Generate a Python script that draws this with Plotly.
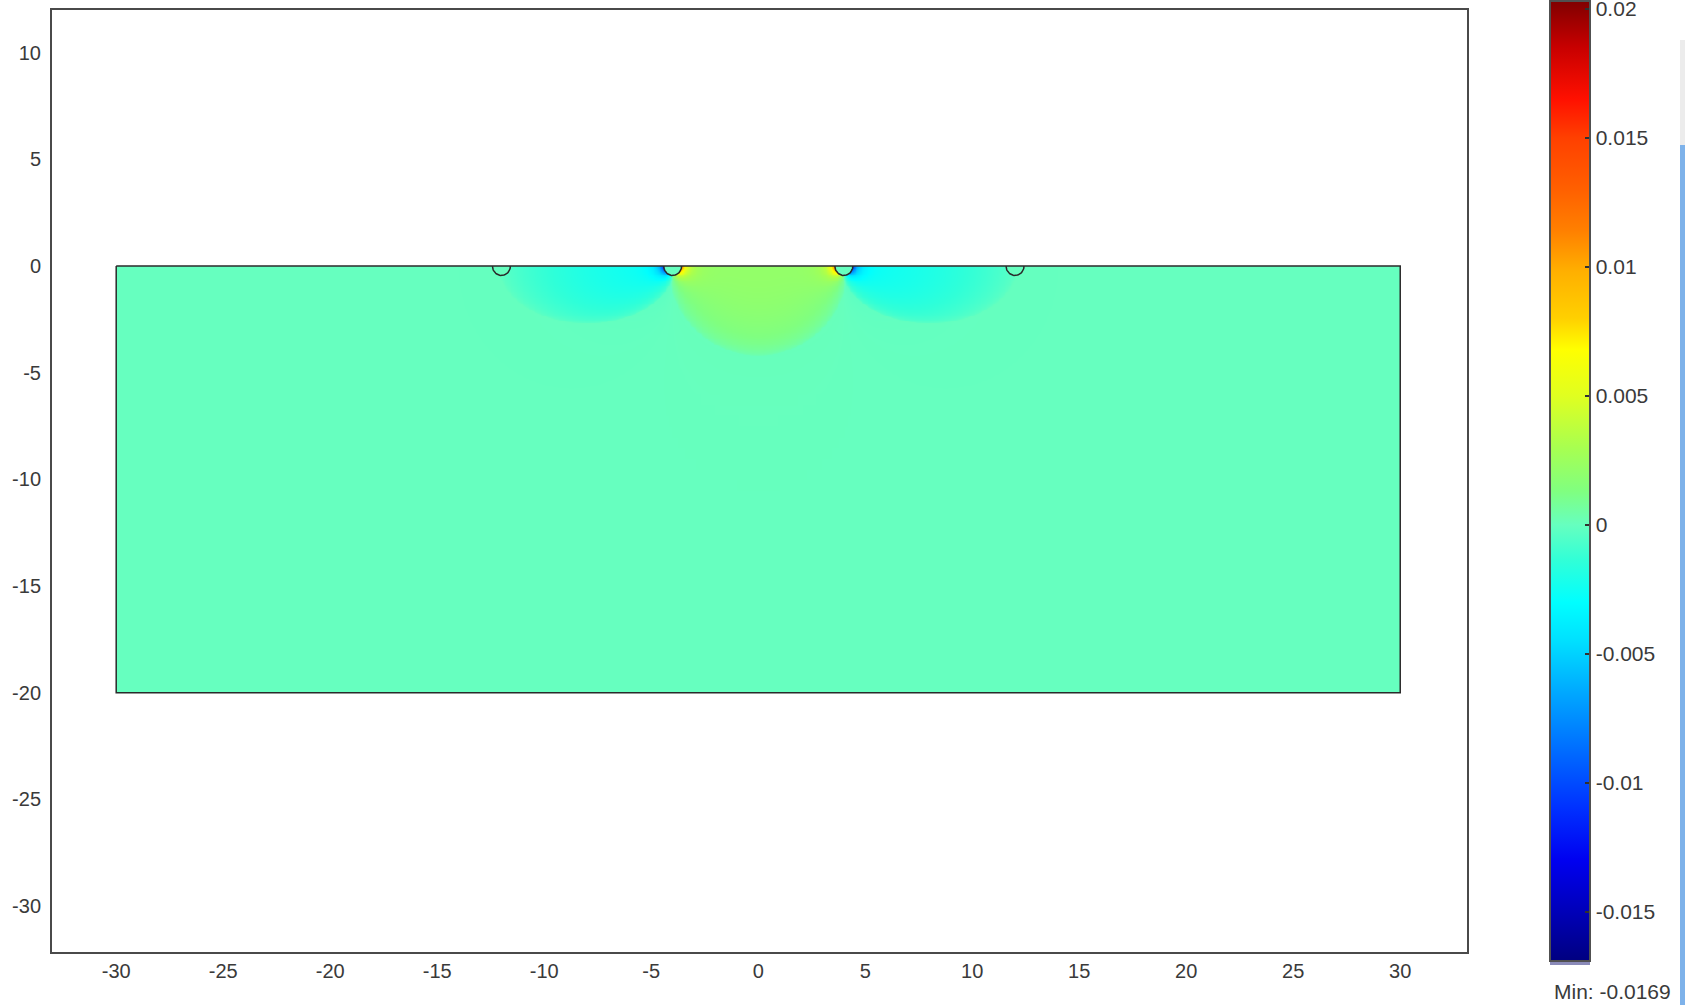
import numpy as np
import plotly.graph_objects as go

# ---------------- data ----------------
x_tickvals = [-30, -25, -20, -15, -10, -5, 0, 5, 10, 15, 20, 25, 30]
x_ticktext = ["-30", "-25", "-20", "-15", "-10", "-5", "0", "5", "10", "15", "20", "25", "30"]
y_tickvals = [10, 5, 0, -5, -10, -15, -20, -25, -30]
y_ticktext = ["10", "5", "0", "-5", "-10", "-15", "-20", "-25", "-30"]
domain_x = [-30, 30]
domain_y = [-20, 0]
electrode_x = [-12, -4, 4, 12]
electrode_r = 0.42
active_electrodes = [-4, 4]          # electrodes with strong +/- lobes
dipole_strength = 0.0018
central_center = [0.0, 0.0]
central_radius = 4.2
central_peak = 0.0019
side_centers = [-8.0, 8.0]
side_halfwidth = 4.1
side_depth = 2.7
side_peak = -0.0019
side_skew = 0.5
value_min = -0.0169
value_max = 0.0203
cbar_tickvals = [0.02, 0.015, 0.01, 0.005, 0, -0.005, -0.01, -0.015]
cbar_ticktext = ["0.02", "0.015", "0.01", "0.005", "0", "-0.005", "-0.01", "-0.015"]
cmap_values = [-0.0169, -0.015, -0.013, -0.011, -0.0086, -0.0065, -0.0045, -0.003,
               -0.0014, 0.0, 0.0013, 0.003, 0.005, 0.0068, 0.008, 0.0098, 0.0114,
               0.013, 0.015, 0.0165, 0.0185, 0.0203]
cmap_colors = ["#000080", "#0000B8", "#0000F0", "#0030FF", "#0070FF", "#00A8FF",
               "#00E0FF", "#00FFFF", "#30FFD8", "#66FFBF", "#80FF80", "#A8FF50",
               "#E0FF20", "#FFFF00", "#FFD000", "#FFB000", "#FF8000", "#FF6000",
               "#FF4000", "#FF1000", "#C80000", "#800000"]

# ---------------- field on a grid (fine near the surface) ----------------
xe = np.concatenate([np.arange(-30, -14, 0.5), np.arange(-14, 14, 0.04), np.arange(14, 30.0001, 0.5)])
ye = np.concatenate([np.arange(-20, -6, 0.5), np.arange(-6, 0.0001, 0.04)])
xc = 0.5 * (xe[:-1] + xe[1:])
yc = 0.5 * (ye[:-1] + ye[1:])
X, Y = np.meshgrid(xc, yc)

Z = np.zeros_like(X)
rc = np.hypot(X - central_center[0], Y - central_center[1]) / central_radius
Z += np.where(rc < 1, central_peak * np.sqrt(np.clip(1 - rc**2, 0, None)), 0)
for c in side_centers:
    t = (X - c) / side_halfwidth * (-np.sign(c))
    rs = np.hypot((X - c) / side_halfwidth, Y / side_depth)
    Z += np.where(rs < 1, side_peak * (1 + side_skew * t) * np.sqrt(np.clip(1 - rs**2, 0, None)), 0)
for e in active_electrodes:
    d = np.hypot(X - e, Y)
    dx = (X - e) * (-np.sign(e))
    Z += dipole_strength * dx / np.maximum(d, electrode_r) ** 3
for e in electrode_x:
    Z = np.where(np.hypot(X - e, Y) < electrode_r, 0.0, Z)
Z = np.clip(Z, value_min, value_max).round(6)

span = value_max - value_min
colorscale = [[(v - value_min) / span, c] for v, c in zip(cmap_values, cmap_colors)]
colorscale[0][0] = 0.0
colorscale[-1][0] = 1.0

# ---------------- figure ----------------
W, H = 1685, 1005
ml, mr, mt, mb = 52, 218, 10, 53
pw, ph = W - ml - mr, H - mt - mb
def px_x(p):
    return (p - ml) / pw
def px_y(p):
    return (H - mb - p) / ph

BAR_TOP, BAR_LEN = 1, 960
FONT = "Liberation Sans, Arial, sans-serif"
fig = go.Figure()
fig.add_trace(go.Heatmap(
    x=xe, y=ye, z=Z, zmin=value_min, zmax=value_max, colorscale=colorscale,
    zsmooth=False, hoverinfo="skip",
    colorbar=dict(
        x=px_x(1550), xanchor="left", xpad=0, ypad=0,
        y=px_y(BAR_TOP), yanchor="top", lenmode="pixels", len=BAR_LEN,
        thicknessmode="pixels", thickness=40,
        outlinewidth=2, outlinecolor="#505050",
        tickvals=cbar_tickvals, ticktext=cbar_ticktext, ticklabeloverflow="allow",
        ticks="inside", ticklen=6, tickwidth=2, tickcolor="#303030",
        tickfont=dict(family=FONT, size=21, color="#3a3a3a"),
    ),
))

# domain outline
bx = [domain_x[0], domain_x[1], domain_x[1], domain_x[0], domain_x[0]]
by = [domain_y[1], domain_y[1], domain_y[0], domain_y[0], domain_y[1]]
fig.add_trace(go.Scatter(x=bx, y=by, mode="lines", line=dict(color="#2a2a2a", width=1.5),
                         hoverinfo="skip", showlegend=False))
# electrodes (half circles below the surface)
th = np.linspace(np.pi, 2 * np.pi, 40)
for e in electrode_x:
    fig.add_trace(go.Scatter(x=e + electrode_r * np.cos(th), y=electrode_r * np.sin(th) * 1.05,
                             mode="lines", line=dict(color="#2a2a2a", width=1.5),
                             hoverinfo="skip", showlegend=False))

shapes = []
# left-edge ticks of the colour bar
for v in cbar_tickvals:
    py = BAR_TOP + (value_max - v) / span * BAR_LEN
    shapes.append(dict(type="line", xref="paper", yref="paper",
                       x0=px_x(1551), x1=px_x(1557), y0=px_y(py), y1=px_y(py),
                       line=dict(color="#303030", width=2)))
# thin lighter strip at the foot of the colour bar
shapes.append(dict(type="rect", xref="paper", yref="paper", x0=px_x(1550), x1=px_x(1590),
                   y0=px_y(BAR_TOP + BAR_LEN + 4), y1=px_y(BAR_TOP + BAR_LEN),
                   fillcolor="#8A8AB8", line=dict(width=0)))
# window edge at the far right of the screenshot
shapes.append(dict(type="rect", xref="paper", yref="paper", x0=px_x(1680), x1=px_x(1686),
                   y0=px_y(1005), y1=px_y(145), fillcolor="#7EB2EA", line=dict(width=0)))
shapes.append(dict(type="rect", xref="paper", yref="paper", x0=px_x(1680), x1=px_x(1686),
                   y0=px_y(145), y1=px_y(40), fillcolor="#ECECEC", line=dict(width=0)))

axis_font = dict(family=FONT, size=20, color="#3a3a3a")
fig.update_layout(
    width=W, height=H, margin=dict(l=ml, r=mr, t=mt, b=mb, autoexpand=False),
    paper_bgcolor="white", plot_bgcolor="white", showlegend=False,
    shapes=shapes,
    xaxis=dict(range=[-33, 33.12], tickvals=x_tickvals, ticktext=x_ticktext, ticks="",
               showgrid=False, zeroline=False,
               showline=True, mirror=True, linecolor="#4a4a4a", linewidth=2,
               tickfont=axis_font, ticklabelstandoff=0),
    yaxis=dict(range=[-32.15, 12], tickvals=y_tickvals, ticktext=y_ticktext, ticks="",
               showgrid=False, zeroline=False,
               showline=True, mirror=True, linecolor="#4a4a4a", linewidth=2,
               tickfont=axis_font, ticklabelstandoff=5),
    annotations=[dict(text="Min: -0.0169", xref="paper", yref="paper", x=px_x(1612), y=px_y(991),
                      xanchor="center", yanchor="middle", showarrow=False,
                      font=dict(family=FONT, size=21, color="#3a3a3a"))],
)
fig.write_html("out.html", config={"displayModeBar": False},
               post_script="document.body.style.margin='0px';document.body.style.overflow='hidden';")
